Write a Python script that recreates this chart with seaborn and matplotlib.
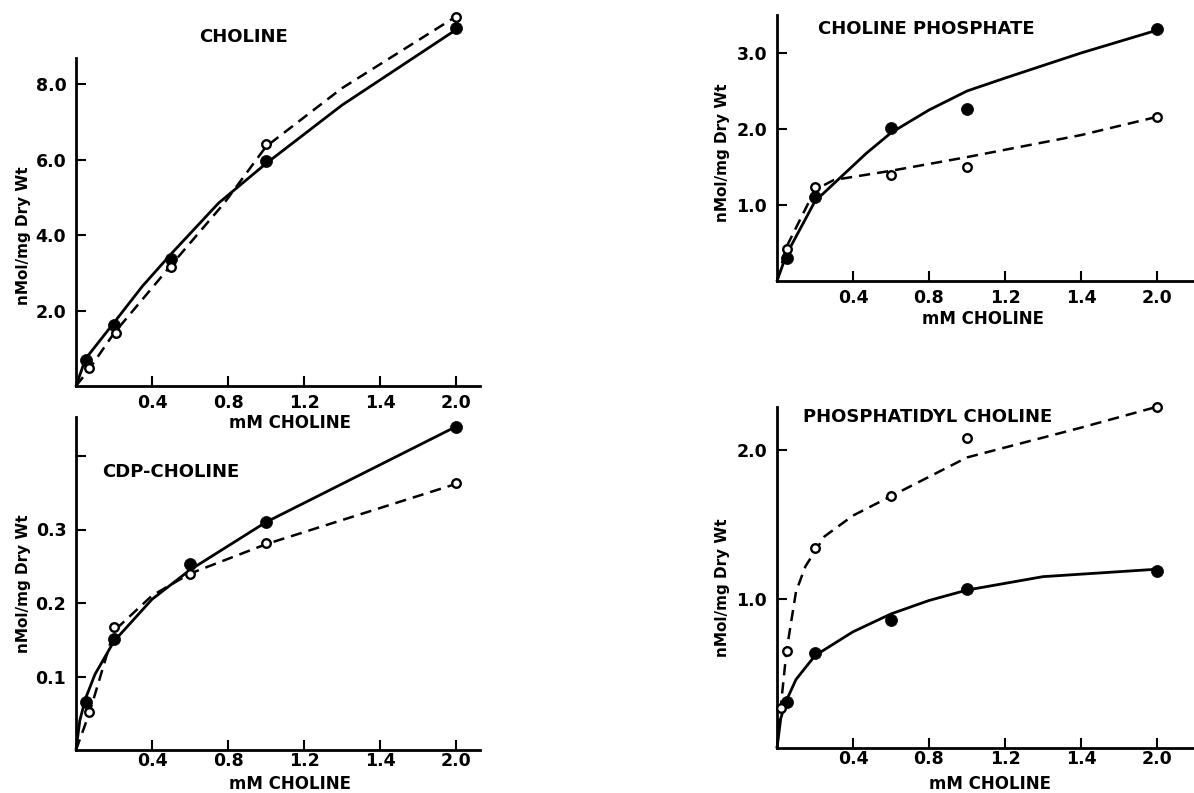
import matplotlib
matplotlib.use("Agg")
import matplotlib.pyplot as plt
import seaborn as sns

# ---------------- data ----------------
x_ticks = [0.4, 0.8, 1.2, 1.6, 2.0]
x_tick_labels = ["0.4", "0.8", "1.2", "1.4", "2.0"]

# Choline (top-left)
chol_x_filled = [0.05, 0.2, 0.5, 1.0, 2.0]
chol_y_filled = [0.69, 1.62, 3.37, 5.97, 9.5]
chol_x_open = [0.07, 0.21, 0.5, 1.0, 2.0]
chol_y_open = [0.47, 1.4, 3.16, 6.43, 9.8]
chol_curve_solid_x = [0.0, 0.05, 0.2, 0.35, 0.5, 0.75, 1.0, 1.4, 2.0]
chol_curve_solid_y = [0.0, 0.72, 1.68, 2.65, 3.5, 4.85, 5.9, 7.45, 9.45]
chol_curve_dash_x = [0.0, 0.07, 0.2, 0.5, 0.78, 1.0, 1.4, 2.0]
chol_curve_dash_y = [0.0, 0.45, 1.4, 3.2, 4.85, 6.35, 7.9, 9.8]
chol_yticks = [2.0, 4.0, 6.0, 8.0]
chol_ytick_labels = ["2.0", "4.0", "6.0", "8.0"]

# CDP-choline (bottom-left)
cdp_x_filled = [0.05, 0.2, 0.6, 1.0, 2.0]
cdp_y_filled = [0.065, 0.151, 0.253, 0.31, 0.44]
cdp_x_open = [0.07, 0.2, 0.6, 1.0, 2.0]
cdp_y_open = [0.052, 0.167, 0.24, 0.282, 0.363]
cdp_curve_solid_x = [0.0, 0.02, 0.05, 0.1, 0.2, 0.4, 0.6, 1.0, 2.0]
cdp_curve_solid_y = [0.0, 0.04, 0.07, 0.103, 0.148, 0.205, 0.245, 0.31, 0.44]
cdp_curve_dash_x = [0.0, 0.07, 0.2, 0.4, 0.6, 1.0, 2.0]
cdp_curve_dash_y = [0.0, 0.05, 0.162, 0.21, 0.24, 0.28, 0.362]
cdp_yticks = [0.1, 0.2, 0.3, 0.4]
cdp_ytick_labels = ["0.1", "0.2", "0.3", ""]

# Choline phosphate (top-right)
cp_x_filled = [0.05, 0.2, 0.6, 1.0, 2.0]
cp_y_filled = [0.3, 1.1, 2.01, 2.26, 3.31]
cp_x_open = [0.05, 0.2, 0.6, 1.0, 2.0]
cp_y_open = [0.42, 1.24, 1.39, 1.5, 2.16]
cp_curve_solid_x = [0.0, 0.05, 0.2, 0.35, 0.47, 0.6, 0.8, 1.0, 1.2, 1.6, 2.0]
cp_curve_solid_y = [0.0, 0.35, 1.05, 1.4, 1.68, 1.95, 2.25, 2.5, 2.67, 3.0, 3.3]
cp_curve_dash_x = [0.0, 0.05, 0.2, 0.3, 0.6, 1.0, 1.6, 2.0]
cp_curve_dash_y = [0.0, 0.45, 1.2, 1.33, 1.45, 1.63, 1.92, 2.16]
cp_yticks = [1.0, 2.0, 3.0]
cp_ytick_labels = ["1.0", "2.0", "3.0"]

# Phosphatidyl choline (bottom-right)
pc_x_filled = [0.05, 0.2, 0.6, 1.0, 2.0]
pc_y_filled = [0.31, 0.64, 0.86, 1.07, 1.19]
pc_x_open = [0.02, 0.05, 0.2, 0.6, 1.0, 2.0]
pc_y_open = [0.27, 0.65, 1.34, 1.69, 2.08, 2.29]
pc_curve_solid_x = [0.0, 0.02, 0.05, 0.1, 0.2, 0.4, 0.6, 0.8, 1.0, 1.4, 2.0]
pc_curve_solid_y = [0.0, 0.2, 0.32, 0.46, 0.62, 0.78, 0.9, 0.99, 1.06, 1.15, 1.2]
pc_curve_dash_x = [0.0, 0.02, 0.05, 0.1, 0.15, 0.2, 0.25, 0.4, 0.6, 1.0, 1.6, 2.0]
pc_curve_dash_y = [0.0, 0.28, 0.65, 1.05, 1.22, 1.32, 1.42, 1.56, 1.69, 1.95, 2.15, 2.29]
pc_yticks = [1.0, 2.0]
pc_ytick_labels = ["1.0", "2.0"]

titles = ["CHOLINE", "CDP-CHOLINE", "CHOLINE PHOSPHATE", "PHOSPHATIDYL CHOLINE"]
x_label = "mM CHOLINE"
y_label = "nMol/mg Dry Wt"

# ---------------- style ----------------
sns.set_style("ticks")
plt.rcParams["font.family"] = ["DejaVu Sans"]
plt.rcParams["font.weight"] = "bold"
for k in ("text.color", "axes.labelcolor", "xtick.color", "ytick.color", "axes.edgecolor"):
    plt.rcParams[k] = "black"

W, H = 1194, 793
fig = plt.figure(figsize=(W / 100, H / 100), dpi=100)


def px_axes(left, top, right, bottom):
    return fig.add_axes([left / W, 1 - bottom / H, (right - left) / W, (bottom - top) / H])


def draw(ax, xf, yf, xo, yo, csx, csy, cdx, cdy, xmax, ymax, yt, ytl, xpad):
    sns.lineplot(x=csx, y=csy, ax=ax, color="black", lw=2.0, estimator=None,
                 sort=False, clip_on=False)
    sns.lineplot(x=cdx, y=cdy, ax=ax, color="black", lw=1.8, estimator=None,
                 sort=False, linestyle=(0, (4.5, 2.8)), clip_on=False)
    sns.scatterplot(x=xf, y=yf, ax=ax, color="black", s=75, marker="o",
                    edgecolor="black", linewidth=0.5, zorder=5, clip_on=False)
    sns.scatterplot(x=xo, y=yo, ax=ax, facecolor="white", s=38, marker="o",
                    edgecolor="black", linewidth=1.7, zorder=6, clip_on=False)
    ax.set_xlim(0, xmax)
    ax.set_ylim(0, ymax)
    ax.set_xticks(x_ticks)
    ax.set_xticklabels(x_tick_labels)
    ax.set_yticks(yt)
    ax.set_yticklabels(ytl)
    ax.tick_params(direction="in", length=7, width=1.5, labelsize=12.5,
                   colors="black")
    ax.tick_params(axis="y", pad=7)
    ax.tick_params(axis="x", pad=xpad)
    for lab in ax.get_xticklabels() + ax.get_yticklabels():
        lab.set_fontweight("bold")
    sns.despine(ax=ax)
    for sp in ("left", "bottom"):
        ax.spines[sp].set_linewidth(2.0)
        ax.spines[sp].set_color("black")
    ax.set_xlabel("")
    ax.set_ylabel("")
    ax.patch.set_alpha(0)


# top-left: Choline
ax1 = px_axes(76, 58, 480, 386)
draw(ax1, chol_x_filled, chol_y_filled, chol_x_open, chol_y_open,
     chol_curve_solid_x, chol_curve_solid_y, chol_curve_dash_x, chol_curve_dash_y,
     404 / 190, 328 / 37.7, chol_yticks, chol_ytick_labels, 6)
fig.text(243 / W, 1 - 37 / H, titles[0], ha="center", va="center", fontsize=13, fontweight="bold")
fig.text(290 / W, 1 - 423 / H, x_label, ha="center", va="center", fontsize=12, fontweight="bold")
fig.text(24 / W, 1 - 236 / H, y_label, ha="center", va="center", rotation=90, fontsize=11, fontweight="bold")

# bottom-left: CDP-choline
ax2 = px_axes(76, 417, 480, 750)
draw(ax2, cdp_x_filled, cdp_y_filled, cdp_x_open, cdp_y_open,
     cdp_curve_solid_x, cdp_curve_solid_y, cdp_curve_dash_x, cdp_curve_dash_y,
     404 / 190, 333 / 735, cdp_yticks, cdp_ytick_labels, 1.5)
fig.text(102 / W, 1 - 472 / H, titles[1], ha="left", va="center", fontsize=13, fontweight="bold")
fig.text(290 / W, 1 - 784 / H, x_label, ha="center", va="center", fontsize=12, fontweight="bold")
fig.text(24 / W, 1 - 584 / H, y_label, ha="center", va="center", rotation=90, fontsize=11, fontweight="bold")

# top-right: Choline phosphate
ax3 = px_axes(777, 15, 1193, 281)
draw(ax3, cp_x_filled, cp_y_filled, cp_x_open, cp_y_open,
     cp_curve_solid_x, cp_curve_solid_y, cp_curve_dash_x, cp_curve_dash_y,
     416 / 190, 266 / 76, cp_yticks, cp_ytick_labels, 6)
fig.text(818 / W, 1 - 29 / H, titles[2], ha="left", va="center", fontsize=13, fontweight="bold")
fig.text(983 / W, 1 - 319 / H, x_label, ha="center", va="center", fontsize=12, fontweight="bold")
fig.text(723 / W, 1 - 153 / H, y_label, ha="center", va="center", rotation=90, fontsize=11, fontweight="bold")

# bottom-right: Phosphatidyl choline
ax4 = px_axes(777, 407, 1193, 748)
draw(ax4, pc_x_filled, pc_y_filled, pc_x_open, pc_y_open,
     pc_curve_solid_x, pc_curve_solid_y, pc_curve_dash_x, pc_curve_dash_y,
     416 / 190, 341 / 149, pc_yticks, pc_ytick_labels, 1.5)
fig.text(803 / W, 1 - 417 / H, titles[3], ha="left", va="center", fontsize=13, fontweight="bold")
fig.text(990 / W, 1 - 784 / H, x_label, ha="center", va="center", fontsize=12, fontweight="bold")
fig.text(723 / W, 1 - 588 / H, y_label, ha="center", va="center", rotation=90, fontsize=11, fontweight="bold")

fig.savefig("out.png", dpi=100, facecolor="white")
